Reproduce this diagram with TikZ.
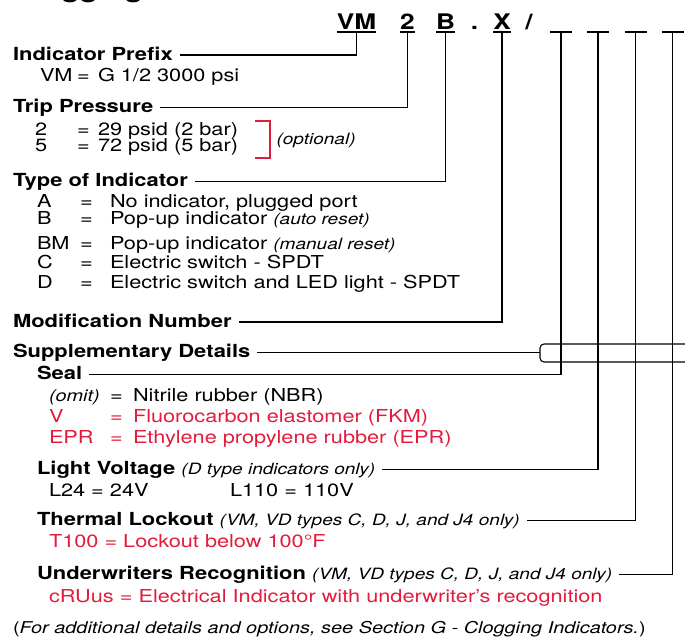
\documentclass[tikz,border=0pt]{standalone}
\usepackage{fontspec}
\setmainfont{TeX Gyre Heros}[FakeStretch=1.22]
\usetikzlibrary{calc}
\definecolor{myred}{HTML}{E31B3C}
\newcommand\fHead{\fontsize{18}{20}\selectfont\bfseries}
\newcommand\fText{\fontsize{17.8}{20}\selectfont}
\newcommand\fNote{\fontsize{15.6}{18}\selectfont\itshape\mdseries}
\newcommand\fCode{\fontsize{21.5}{24}\selectfont\bfseries}
\newcommand\fTitle{\fontsize{24.6}{28}\selectfont\bfseries}
\newcommand\fFoot{\fontsize{16.3}{18}\selectfont}
\tikzset{
  every node/.style={inner sep=0pt, outer sep=0pt, anchor=base west},
  hd/.style={font=\fHead, text height=13pt, text depth=3pt},
  tx/.style={font=\fText},
  rd/.style={font=\fText, text=myred},
  nt/.style={font=\fNote},
  code/.style={font=\fCode, anchor=base, text depth=0pt},
  ln/.style={line width=1.1pt, black},
}
\begin{document}
\begin{tikzpicture}[x=1pt,y=-1pt]
\useasboundingbox (0,0) rectangle (685,637);
% clipped title
\node[font=\fTitle] (title) at (13,-2) {Clogging};
% code row
\node[code] (cVM) at (356.5,29) {VM};
\node[code] (c2) at (407.5,29) {2};
\node[code] (cB) at (445.5,29) {B};
\node[code] (cDot) at (474.5,29) {.};
\node[code] (cX) at (502,29) {X};
\node[code] (cSl) at (529,29) {/};
\coordinate (b1) at (561,32);
\coordinate (b2) at (598,32);
\coordinate (b3) at (635.5,32);
\coordinate (b4) at (672.5,32);
\foreach \n in {cVM,c2,cB,cX}{
  \draw[ln] ([yshift=-3pt]\n.south west) -- ([yshift=-3pt]\n.south east);
}
\foreach \n in {b1,b2,b3,b4}{
  \draw[ln] ([xshift=-11pt]\n) -- ([xshift=11pt]\n);
}
% Indicator prefix
\node[hd] (hIP) at (13,60) {Indicator Prefix};
\node[tx] (kVM) at (40,81.7) {VM};
\node[tx] (eVM) at (77,81.7) {=};
\node[tx] (vVM) at (98,81.7) {G 1/2 3000 psi};
% Trip pressure
\node[hd] (hTP) at (13,112.7) {Trip Pressure};
\node[tx] (k2) at (35,135) {2};
\node[tx] (e2) at (77,135) {=};
\node[tx] (v2) at (98,135) {29 psid (2 bar)};
\node[tx] (k5) at (35,151.7) {5};
\node[tx] (e5) at (77,151.7) {=};
\node[tx] (v5) at (98,151.7) {72 psid (5 bar)};
\coordinate (rbT) at (255,121);
\coordinate (rbB) at (255,158);
\draw[line width=1.1pt, myred] (rbT) -- ++(15,0) -- ([xshift=15pt]rbB) -- (rbB);
\node[nt] (opt) at (276.5,144.5) {(optional)};
% Type of indicator
\node[hd] (hTI) at (13,186.7) {Type of Indicator};
\node[tx] (kA) at (37,207) {A};
\node[tx] (eA) at (80,207) {=};
\node[tx] (vA) at (110,207) {No indicator, plugged port};
\node[tx] (kB) at (37,224) {B};
\node[tx] (eB) at (80,224) {=};
\node[tx] (vB) at (110,224) {Pop-up indicator {\fNote (auto reset)}};
\node[tx] (kBM) at (37,249) {BM};
\node[tx] (eBM) at (80,249) {=};
\node[tx] (vBM) at (110,249) {Pop-up indicator {\fNote (manual reset)}};
\node[tx] (kC) at (37,268) {C};
\node[tx] (eC) at (80,268) {=};
\node[tx] (vC) at (110,268) {Electric switch - SPDT};
\node[tx] (kD) at (37,288) {D};
\node[tx] (eD) at (80,288) {=};
\node[tx] (vD) at (110,288) {Electric switch and LED light - SPDT};
% Modification number
\node[hd] (hMN) at (13,327) {Modification Number};
% Supplementary details
\node[hd] (hSD) at (13,357.7) {Supplementary Details};
\node[hd] (hSeal) at (37,379.3) {Seal};
\node[nt, font=\fontsize{16.3}{18}\selectfont\itshape] (kOm) at (49,401.7) {(omit)};
\node[tx] (eOm) at (110,401.7) {=};
\node[tx] (vOm) at (133,401.7) {Nitrile rubber (NBR)};
\node[rd] (kV) at (49,422.3) {V};
\node[rd] (eV) at (110,422.3) {=};
\node[rd] (vV) at (133,422.3) {Fluorocarbon elastomer (FKM)};
\node[rd] (kE) at (49,443.3) {EPR};
\node[rd] (eE) at (110,443.3) {=};
\node[rd] (vE) at (133,443.3) {Ethylene propylene rubber (EPR)};
\node[hd] (hLV) at (37,474.3) {Light Voltage {\fNote (D type indicators only)}};
\node[tx] (l24) at (49,496) {L24 = 24V};
\node[tx] (l110) at (230,496) {L110 = 110V};
\node[hd] (hTL) at (37,525.7) {Thermal Lockout {\fNote (VM, VD types C, D, J, and J4 only)}};
\node[rd] (t100) at (49,547) {T100 = Lockout below 100°F};
\node[hd] (hUR) at (37,579.3) {Underwriters Recognition {\fNote (VM, VD types C, D, J, and J4 only)}};
\node[rd] (cru) at (49,602.7) {cRUus = Electrical Indicator with underwriter’s recognition};
\node[font=\fFoot] (fn) at (13,633) {(\textit{For additional details and options, see Section G - Clogging Indicators.})};
% connectors
\draw[ln] ([yshift=-3pt]cVM.south) |- ([xshift=7pt]hIP.east);
\draw[ln] ([yshift=-3pt]c2.south) |- ([xshift=7pt]hTP.east);
\draw[ln] ([yshift=-3pt]cB.south) |- ([xshift=7pt]hTI.east);
\draw[ln] ([yshift=-3pt]cX.south) |- ([xshift=7pt]hMN.east);
\draw[ln] (b1) |- ([xshift=7pt]hSeal.east);
\draw[ln] (b2) |- ([xshift=7pt]hLV.east);
\draw[ln] (b3) |- ([xshift=7pt]hTL.east);
\draw[ln] (b4) |- ([xshift=7pt]hUR.east);
\coordinate (brT) at (540,344);
\coordinate (brB) at (540,362);
\draw[ln, rounded corners=4pt] (685,344) -- (brT) -- (brB) -- (685,362);
\draw[ln] ([xshift=7pt]hSD.east) -- (hSD.east -| brT);
\end{tikzpicture}
\end{document}
